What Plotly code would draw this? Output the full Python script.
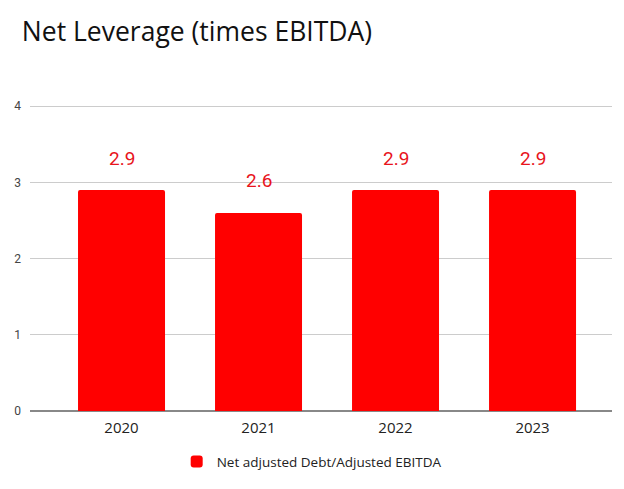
import plotly.graph_objects as go

years = ["2020", "2021", "2022", "2023"]
leverage = [2.9, 2.6, 2.9, 2.9]
series_name = "Net adjusted Debt/Adjusted EBITDA"
title_text = "Net Leverage (times EBITDA)"
y_ticks = [0, 1, 2, 3, 4]

fig = go.Figure()
fig.add_trace(go.Bar(
    x=years, y=leverage, name=series_name,
    marker=dict(color="#ff0000", line=dict(width=0)),
    width=0.635,
))

annotations = []
for i, v in enumerate(leverage):
    annotations.append(dict(
        x=i, y=v, xref="x", yref="y", text=f"{v:.1f}", showarrow=False, yshift=32,
        font=dict(family="Roboto", size=19, color="#e8141c"),
        xanchor="center", yanchor="middle",
    ))

fig.update_layout(
    width=624, height=489,
    paper_bgcolor="white", plot_bgcolor="white",
    margin=dict(l=30, r=12, t=104, b=78),
    barcornerradius=2,
    title=dict(text=title_text, x=0.035, xanchor="left", y=0.935, yanchor="middle",
               font=dict(family="Open Sans", size=26.5, color="#111111")),
    xaxis=dict(type="category", range=[-0.668, 3.58], showgrid=False, showline=False,
               tickfont=dict(family="Open Sans", size=15, color="#222222"),
               ticks="", ticklabelstandoff=6),
    yaxis=dict(range=[0, 4.03], tickvals=y_ticks, showgrid=True, gridcolor="#cccccc",
               gridwidth=1, zeroline=True, zerolinecolor="#888888", zerolinewidth=1.5,
               tickfont=dict(family="Roboto", size=12, color="#444444"),
               ticks="", ticklabelstandoff=8),
    showlegend=True,
    legend=dict(orientation="h", x=0.484, xanchor="center", y=-0.165, yanchor="middle",
                font=dict(family="Open Sans", size=13.5, color="#222222")),
    annotations=annotations,
    bargap=0.365,
)

fig.write_html("out.html", config={"displayModeBar": False},
               post_script="document.body.style.margin='0';")
